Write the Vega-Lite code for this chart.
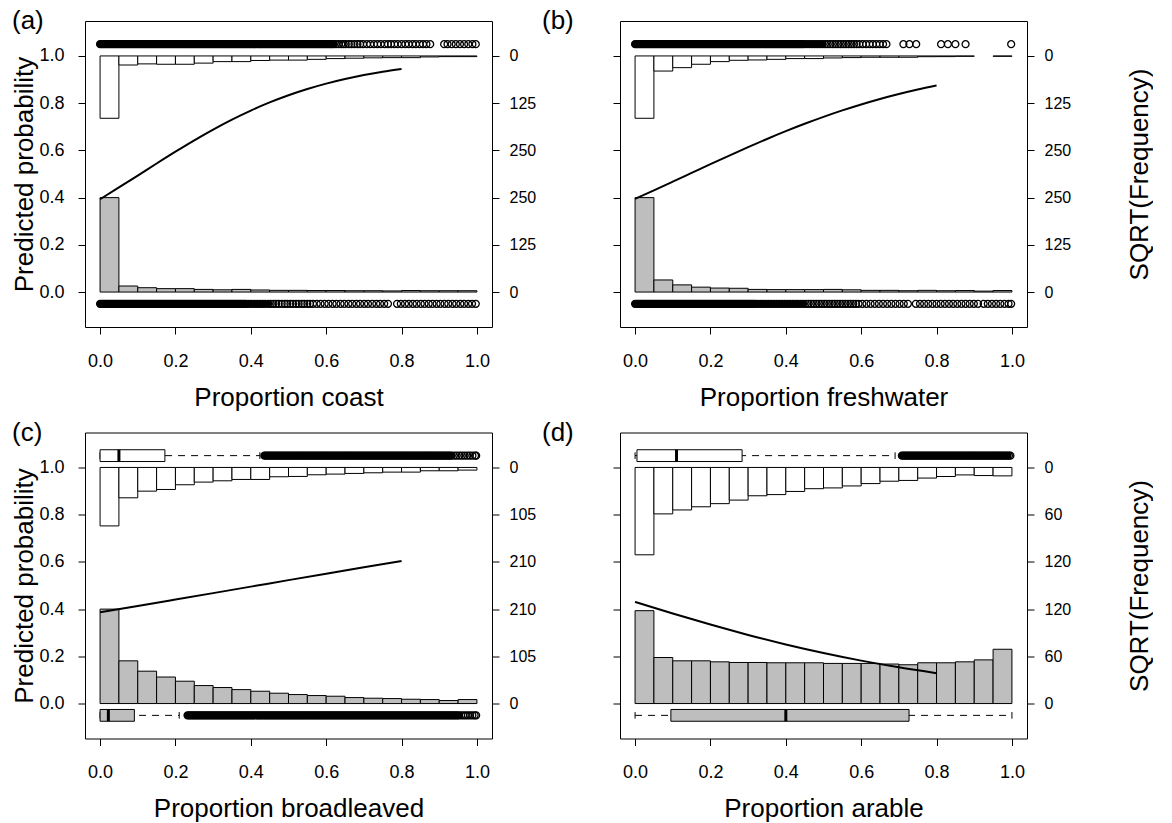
{
"$schema": "https://vega.github.io/schema/vega-lite/v6.json",
"padding": {"left": 10, "top": 7, "right": 0, "bottom": 0},
"background": "white",
"config": {
  "font": "Liberation Sans",
  "view": {"stroke": "black", "strokeWidth": 1},
  "axis": {"grid": false, "domain": false, "tickColor": "black", "tickSize": 7, "tickWidth": 1, "labelColor": "black", "labelFontSize": 18, "titleColor": "black", "titleFontSize": 26, "titleFontWeight": "normal", "labelFont": "Liberation Sans", "titleFont": "Liberation Sans", "labelOverlap": false, "labelBound": false, "labelFlush": false}
},
"columns": 2,
"spacing": {"row": 105.5, "column": 128},
"bounds": "flush",
"concat": [
{
  "width": 407, "height": 306,
  "title": {"text": "(a)", "anchor": "start", "frame": "group", "dx": -73, "dy": 34, "offset": 0, "baseline": "alphabetic", "fontSize": 26, "fontWeight": "normal", "font": "Liberation Sans", "color": "black"},
  "resolve": {"scale": {"y": "independent"}},
  "data": {"values": [
    {"b0":0,"b1":0.05,"pres":250,"abs":165},{"b0":0.05,"b1":0.1,"pres":16,"abs":24},{"b0":0.1,"b1":0.15,"pres":11.5,"abs":21},{"b0":0.15,"b1":0.2,"pres":9,"abs":22},{"b0":0.2,"b1":0.25,"pres":9,"abs":22},{"b0":0.25,"b1":0.3,"pres":7,"abs":19},{"b0":0.3,"b1":0.35,"pres":6,"abs":15},{"b0":0.35,"b1":0.4,"pres":7,"abs":15},{"b0":0.4,"b1":0.45,"pres":5.5,"abs":12},{"b0":0.45,"b1":0.5,"pres":4.5,"abs":11},{"b0":0.5,"b1":0.55,"pres":4.5,"abs":11},{"b0":0.55,"b1":0.6,"pres":4,"abs":9},{"b0":0.6,"b1":0.65,"pres":4,"abs":7},{"b0":0.65,"b1":0.7,"pres":3.5,"abs":6},{"b0":0.7,"b1":0.75,"pres":3.5,"abs":5},{"b0":0.75,"b1":0.8,"pres":3,"abs":4.5},{"b0":0.8,"b1":0.85,"pres":4,"abs":4.5},{"b0":0.85,"b1":0.9,"pres":3.5,"abs":2.6},{"b0":0.9,"b1":0.95,"pres":3.5,"abs":1.8},{"b0":0.95,"b1":1,"pres":3.5,"abs":1.8}
  ]},
  "layer": [
    {"mark": {"type": "bar", "fill": "white", "stroke": "black", "strokeWidth": 1},
     "encoding": {
       "x": {"field": "b0", "type": "quantitative", "scale": {"domain": [-0.04, 1.04], "nice": false, "zero": false}, "axis": {"title": "Proportion coast", "values": [0, 0.2, 0.4, 0.6, 0.8, 1], "format": ".1f", "labelPadding": 18, "titleY": 78, "titleBaseline": "alphabetic"}},
       "x2": {"field": "b1"},
       "y": {"field": "abs", "type": "quantitative", "scale": {"domain": [-92.5, 717.5], "reverse": true, "nice": false, "zero": false}, "axis": null},
       "y2": {"datum": 0}}},
    {"mark": {"type": "bar", "fill": "#bebebe", "stroke": "black", "strokeWidth": 1},
     "encoding": {
       "x": {"field": "b0", "type": "quantitative", "scale": {"domain": [-0.04, 1.04], "nice": false, "zero": false}, "axis": {"title": "Proportion coast", "values": [0, 0.2, 0.4, 0.6, 0.8, 1], "format": ".1f", "labelPadding": 18, "titleY": 78, "titleBaseline": "alphabetic"}},
       "x2": {"field": "b1"},
       "y": {"field": "pres", "type": "quantitative", "scale": {"domain": [-92.5, 717.5], "nice": false, "zero": false}, "axis": null},
       "y2": {"datum": 0}}},
    {"data": {"values": [0,0.004,0.008,0.012,0.016,0.02,0.024,0.028,0.032,0.036,0.04,0.044,0.048,0.052,0.056,0.06,0.064,0.068,0.072,0.076,0.08,0.084,0.088,0.092,0.096,0.1,0.104,0.108,0.112,0.116,0.12,0.124,0.128,0.132,0.136,0.14,0.144,0.148,0.152,0.156,0.16,0.164,0.168,0.172,0.176,0.18,0.184,0.188,0.192,0.196,0.2,0.204,0.208,0.212,0.216,0.22,0.224,0.228,0.232,0.236,0.24,0.244,0.248,0.252,0.256,0.26,0.264,0.268,0.272,0.276,0.28,0.284,0.288,0.292,0.296,0.3,0.304,0.308,0.312,0.316,0.32,0.324,0.328,0.332,0.336,0.34,0.344,0.348,0.352,0.356,0.36,0.364,0.368,0.372,0.376,0.38,0.384,0.388,0.392,0.396,0.4,0.404,0.408,0.412,0.416,0.42,0.424,0.428,0.432,0.436,0.44,0.444,0.448,0.452,0.456,0.46,0.464,0.468,0.472,0.476,0.48,0.484,0.488,0.492,0.496,0.5,0.504,0.508,0.512,0.516,0.52,0.524,0.528,0.532,0.536,0.54,0.544,0.548,0.552,0.556,0.56,0.564,0.568,0.572,0.576,0.58,0.584,0.588,0.592,0.596,0.6,0.604,0.608,0.612,0.616,0.62,0.626,0.633,0.64,0.646,0.652,0.66,0.667,0.675,0.683,0.69,0.698,0.708,0.717,0.727,0.736,0.745,0.755,0.764,0.772,0.781,0.79,0.8,0.81,0.819,0.829,0.838,0.848,0.857,0.866,0.876,0.913,0.922,0.933,0.944,0.955,0.966,0.977,0.988,0.997]},
     "mark": {"type": "point", "shape": "circle", "filled": true, "stroke": "black", "strokeWidth": 1.3, "size": 48, "opacity": 1},
     "encoding": {
       "x": {"field": "data", "type": "quantitative", "scale": {"domain": [-0.04, 1.04], "nice": false, "zero": false}, "axis": {"title": "Proportion coast", "values": [0, 0.2, 0.4, 0.6, 0.8, 1], "format": ".1f", "labelPadding": 18, "titleY": 78, "titleBaseline": "alphabetic"}},
       "y": {"datum": 1.05, "type": "quantitative", "scale": {"domain": [-0.148, 1.148], "nice": false, "zero": false}, "axis": {"orient": "right", "title": null, "values": [0, 0.2, 0.4, 0.6, 0.8, 1], "labelExpr": "datum.value >= 0.5 ? '' + round((1 - datum.value) * 625) : '' + round(datum.value * 625)", "labelAlign": "left", "labelFontSize": 16, "labelPadding": 10}},
       "fill": {"condition": {"test": "datum.data <= 0.62", "value": "black"}, "value": "transparent"}}},
    {"data": {"values": [0,0.004,0.008,0.012,0.016,0.02,0.024,0.028,0.032,0.036,0.04,0.044,0.048,0.052,0.056,0.06,0.064,0.068,0.072,0.076,0.08,0.084,0.088,0.092,0.096,0.1,0.104,0.108,0.112,0.116,0.12,0.124,0.128,0.132,0.136,0.14,0.144,0.148,0.152,0.156,0.16,0.164,0.168,0.172,0.176,0.18,0.184,0.188,0.192,0.196,0.2,0.204,0.208,0.212,0.216,0.22,0.224,0.228,0.232,0.236,0.24,0.244,0.248,0.252,0.256,0.26,0.264,0.268,0.272,0.276,0.28,0.284,0.288,0.292,0.296,0.3,0.304,0.308,0.312,0.316,0.32,0.324,0.328,0.332,0.336,0.34,0.344,0.348,0.352,0.356,0.36,0.364,0.368,0.372,0.376,0.38,0.384,0.388,0.395,0.402,0.41,0.417,0.424,0.431,0.438,0.446,0.453,0.46,0.467,0.474,0.482,0.49,0.497,0.505,0.512,0.52,0.527,0.535,0.542,0.55,0.557,0.565,0.575,0.585,0.596,0.606,0.617,0.627,0.638,0.648,0.659,0.669,0.68,0.69,0.701,0.711,0.722,0.733,0.743,0.754,0.764,0.788,0.798,0.809,0.819,0.83,0.84,0.851,0.861,0.872,0.882,0.893,0.903,0.914,0.924,0.935,0.945,0.956,0.966,0.977,0.987,0.997]},
     "mark": {"type": "point", "shape": "circle", "filled": true, "stroke": "black", "strokeWidth": 1.3, "size": 48, "opacity": 1},
     "encoding": {
       "x": {"field": "data", "type": "quantitative", "scale": {"domain": [-0.04, 1.04], "nice": false, "zero": false}, "axis": {"title": "Proportion coast", "values": [0, 0.2, 0.4, 0.6, 0.8, 1], "format": ".1f", "labelPadding": 18, "titleY": 78, "titleBaseline": "alphabetic"}},
       "y": {"datum": -0.05, "type": "quantitative", "scale": {"domain": [-0.148, 1.148], "nice": false, "zero": false}, "axis": null},
       "fill": {"condition": {"test": "datum.data <= 0.45", "value": "black"}, "value": "transparent"}}},
    {"data": {"values": [{"x":0,"p":0.393},{"x":0.05,"p":0.443},{"x":0.1,"p":0.4935},{"x":0.15,"p":0.5445},{"x":0.2,"p":0.5946},{"x":0.25,"p":0.6428},{"x":0.3,"p":0.6883},{"x":0.35,"p":0.7304},{"x":0.4,"p":0.7687},{"x":0.45,"p":0.8031},{"x":0.5,"p":0.8334},{"x":0.55,"p":0.8599},{"x":0.6,"p":0.8828},{"x":0.65,"p":0.9023},{"x":0.7,"p":0.919},{"x":0.75,"p":0.9329},{"x":0.8,"p":0.9446}]},
     "mark": {"type": "line", "color": "black", "strokeWidth": 2, "interpolate": "monotone"},
     "encoding": {
       "x": {"field": "x", "type": "quantitative", "scale": {"domain": [-0.04, 1.04], "nice": false, "zero": false}, "axis": {"title": "Proportion coast", "values": [0, 0.2, 0.4, 0.6, 0.8, 1], "format": ".1f", "labelPadding": 18, "titleY": 78, "titleBaseline": "alphabetic"}},
       "y": {"field": "p", "type": "quantitative", "scale": {"domain": [-0.148, 1.148], "nice": false, "zero": false}, "axis": {"orient": "left", "title": "Predicted probability", "values": [0, 0.2, 0.4, 0.6, 0.8, 1], "format": ".1f", "labelPadding": 14, "titleX": -53, "titleY": 153, "titleAngle": 270, "titleBaseline": "alphabetic", "titleAlign": "center"}}}}
  ]
},
{
  "width": 407, "height": 306,
  "title": {"text": "(b)", "anchor": "start", "frame": "group", "dx": -78, "dy": 34, "offset": 0, "baseline": "alphabetic", "fontSize": 26, "fontWeight": "normal", "font": "Liberation Sans", "color": "black"},
  "resolve": {"scale": {"y": "independent"}},
  "data": {"values": [
    {"b0":0,"b1":0.05,"pres":250,"abs":165},{"b0":0.05,"b1":0.1,"pres":32,"abs":40},{"b0":0.1,"b1":0.15,"pres":19,"abs":31},{"b0":0.15,"b1":0.2,"pres":13,"abs":22},{"b0":0.2,"b1":0.25,"pres":10.6,"abs":15},{"b0":0.25,"b1":0.3,"pres":10,"abs":11.5},{"b0":0.3,"b1":0.35,"pres":7,"abs":10.6},{"b0":0.35,"b1":0.4,"pres":6.5,"abs":9},{"b0":0.4,"b1":0.45,"pres":6.5,"abs":7},{"b0":0.45,"b1":0.5,"pres":6.5,"abs":7},{"b0":0.5,"b1":0.55,"pres":7,"abs":5.3},{"b0":0.55,"b1":0.6,"pres":6,"abs":4.4},{"b0":0.6,"b1":0.65,"pres":4.5,"abs":3.5},{"b0":0.65,"b1":0.7,"pres":4.5,"abs":3.5},{"b0":0.7,"b1":0.75,"pres":3.5,"abs":3.5},{"b0":0.75,"b1":0.8,"pres":4.5,"abs":2},{"b0":0.8,"b1":0.85,"pres":3.5,"abs":1.8},{"b0":0.85,"b1":0.9,"pres":4,"abs":1},{"b0":0.9,"b1":0.95,"pres":2.5,"abs":null},{"b0":0.95,"b1":1,"pres":4,"abs":1}
  ]},
  "layer": [
    {"mark": {"type": "bar", "fill": "white", "stroke": "black", "strokeWidth": 1},
     "encoding": {
       "x": {"field": "b0", "type": "quantitative", "scale": {"domain": [-0.04, 1.04], "nice": false, "zero": false}, "axis": {"title": "Proportion freshwater", "values": [0, 0.2, 0.4, 0.6, 0.8, 1], "format": ".1f", "labelPadding": 18, "titleY": 78, "titleBaseline": "alphabetic"}},
       "x2": {"field": "b1"},
       "y": {"field": "abs", "type": "quantitative", "scale": {"domain": [-92.5, 717.5], "reverse": true, "nice": false, "zero": false}, "axis": null},
       "y2": {"datum": 0}}},
    {"mark": {"type": "bar", "fill": "#bebebe", "stroke": "black", "strokeWidth": 1},
     "encoding": {
       "x": {"field": "b0", "type": "quantitative", "scale": {"domain": [-0.04, 1.04], "nice": false, "zero": false}, "axis": {"title": "Proportion freshwater", "values": [0, 0.2, 0.4, 0.6, 0.8, 1], "format": ".1f", "labelPadding": 18, "titleY": 78, "titleBaseline": "alphabetic"}},
       "x2": {"field": "b1"},
       "y": {"field": "pres", "type": "quantitative", "scale": {"domain": [-92.5, 717.5], "nice": false, "zero": false}, "axis": null},
       "y2": {"datum": 0}}},
    {"data": {"values": [0,0.004,0.008,0.012,0.016,0.02,0.024,0.028,0.032,0.036,0.04,0.044,0.048,0.052,0.056,0.06,0.064,0.068,0.072,0.076,0.08,0.084,0.088,0.092,0.096,0.1,0.104,0.108,0.112,0.116,0.12,0.124,0.128,0.132,0.136,0.14,0.144,0.148,0.152,0.156,0.16,0.164,0.168,0.172,0.176,0.18,0.184,0.188,0.192,0.196,0.2,0.204,0.208,0.212,0.216,0.22,0.224,0.228,0.232,0.236,0.24,0.244,0.248,0.252,0.256,0.26,0.264,0.268,0.272,0.276,0.28,0.284,0.288,0.292,0.296,0.3,0.304,0.308,0.312,0.316,0.32,0.324,0.328,0.332,0.336,0.34,0.344,0.348,0.352,0.356,0.36,0.364,0.368,0.372,0.376,0.38,0.384,0.388,0.392,0.396,0.4,0.404,0.408,0.412,0.416,0.42,0.424,0.428,0.432,0.436,0.44,0.444,0.448,0.455,0.462,0.469,0.476,0.483,0.49,0.497,0.504,0.511,0.518,0.525,0.532,0.539,0.546,0.553,0.56,0.567,0.574,0.581,0.588,0.595,0.604,0.613,0.622,0.631,0.64,0.649,0.658,0.667,0.712,0.728,0.746,0.812,0.83,0.85,0.877,0.998]},
     "mark": {"type": "point", "shape": "circle", "filled": true, "stroke": "black", "strokeWidth": 1.3, "size": 48, "opacity": 1},
     "encoding": {
       "x": {"field": "data", "type": "quantitative", "scale": {"domain": [-0.04, 1.04], "nice": false, "zero": false}, "axis": {"title": "Proportion freshwater", "values": [0, 0.2, 0.4, 0.6, 0.8, 1], "format": ".1f", "labelPadding": 18, "titleY": 78, "titleBaseline": "alphabetic"}},
       "y": {"datum": 1.05, "type": "quantitative", "scale": {"domain": [-0.148, 1.148], "nice": false, "zero": false}, "axis": {"orient": "right", "title": "SQRT(Frequency)", "values": [0, 0.2, 0.4, 0.6, 0.8, 1], "labelExpr": "datum.value >= 0.5 ? '' + round((1 - datum.value) * 625) : '' + round(datum.value * 625)", "labelAlign": "left", "labelFontSize": 16, "labelPadding": 10, "titleX": 120, "titleY": 153, "titleAngle": 270, "titleBaseline": "alphabetic", "titleAlign": "center"}},
       "fill": {"condition": {"test": "datum.data <= 0.5", "value": "black"}, "value": "transparent"}}},
    {"data": {"values": [0,0.004,0.008,0.012,0.016,0.02,0.024,0.028,0.032,0.036,0.04,0.044,0.048,0.052,0.056,0.06,0.064,0.068,0.072,0.076,0.08,0.084,0.088,0.092,0.096,0.1,0.104,0.108,0.112,0.116,0.12,0.124,0.128,0.132,0.136,0.14,0.144,0.148,0.152,0.156,0.16,0.164,0.168,0.172,0.176,0.18,0.184,0.188,0.192,0.196,0.2,0.204,0.208,0.212,0.216,0.22,0.224,0.228,0.232,0.236,0.24,0.244,0.248,0.252,0.256,0.26,0.264,0.268,0.272,0.276,0.28,0.284,0.288,0.292,0.296,0.3,0.304,0.308,0.312,0.316,0.32,0.327,0.334,0.341,0.348,0.355,0.362,0.369,0.376,0.383,0.39,0.397,0.404,0.411,0.418,0.425,0.432,0.439,0.446,0.453,0.46,0.467,0.474,0.481,0.488,0.495,0.502,0.509,0.516,0.523,0.53,0.537,0.544,0.551,0.558,0.565,0.572,0.579,0.586,0.593,0.603,0.614,0.625,0.636,0.647,0.658,0.669,0.68,0.691,0.702,0.713,0.724,0.745,0.756,0.767,0.778,0.789,0.8,0.811,0.822,0.833,0.844,0.855,0.866,0.877,0.888,0.899,0.91,0.925,0.936,0.947,0.958,0.969,0.98,0.991,0.998]},
     "mark": {"type": "point", "shape": "circle", "filled": true, "stroke": "black", "strokeWidth": 1.3, "size": 48, "opacity": 1},
     "encoding": {
       "x": {"field": "data", "type": "quantitative", "scale": {"domain": [-0.04, 1.04], "nice": false, "zero": false}, "axis": {"title": "Proportion freshwater", "values": [0, 0.2, 0.4, 0.6, 0.8, 1], "format": ".1f", "labelPadding": 18, "titleY": 78, "titleBaseline": "alphabetic"}},
       "y": {"datum": -0.05, "type": "quantitative", "scale": {"domain": [-0.148, 1.148], "nice": false, "zero": false}, "axis": null},
       "fill": {"condition": {"test": "datum.data <= 0.45", "value": "black"}, "value": "transparent"}}},
    {"data": {"values": [{"x":0,"p":0.395},{"x":0.05,"p":0.431},{"x":0.1,"p":0.4677},{"x":0.15,"p":0.5047},{"x":0.2,"p":0.5417},{"x":0.25,"p":0.5782},{"x":0.3,"p":0.6138},{"x":0.35,"p":0.6483},{"x":0.4,"p":0.6814},{"x":0.45,"p":0.7126},{"x":0.5,"p":0.742},{"x":0.55,"p":0.7694},{"x":0.6,"p":0.7946},{"x":0.65,"p":0.8178},{"x":0.7,"p":0.8388},{"x":0.75,"p":0.8579},{"x":0.8,"p":0.875}]},
     "mark": {"type": "line", "color": "black", "strokeWidth": 2, "interpolate": "monotone"},
     "encoding": {
       "x": {"field": "x", "type": "quantitative", "scale": {"domain": [-0.04, 1.04], "nice": false, "zero": false}, "axis": {"title": "Proportion freshwater", "values": [0, 0.2, 0.4, 0.6, 0.8, 1], "format": ".1f", "labelPadding": 18, "titleY": 78, "titleBaseline": "alphabetic"}},
       "y": {"field": "p", "type": "quantitative", "scale": {"domain": [-0.148, 1.148], "nice": false, "zero": false}, "axis": {"orient": "left", "title": null, "values": [0, 0.2, 0.4, 0.6, 0.8, 1], "labels": false}}}}
  ]
},
{
  "width": 407, "height": 306,
  "title": {"text": "(c)", "anchor": "start", "frame": "group", "dx": -73, "dy": 34, "offset": 0, "baseline": "alphabetic", "fontSize": 26, "fontWeight": "normal", "font": "Liberation Sans", "color": "black"},
  "resolve": {"scale": {"y": "independent"}},
  "data": {"values": [
    {"b0":0,"b1":0.05,"pres":210,"abs":130},{"b0":0.05,"b1":0.1,"pres":95,"abs":67.5},{"b0":0.1,"b1":0.15,"pres":72,"abs":52.7},{"b0":0.15,"b1":0.2,"pres":59,"abs":49},{"b0":0.2,"b1":0.25,"pres":49.7,"abs":38.5},{"b0":0.25,"b1":0.3,"pres":40,"abs":32.6},{"b0":0.3,"b1":0.35,"pres":35.6,"abs":29.7},{"b0":0.35,"b1":0.4,"pres":31,"abs":26.7},{"b0":0.4,"b1":0.45,"pres":27.4,"abs":26.7},{"b0":0.45,"b1":0.5,"pres":23,"abs":20.7},{"b0":0.5,"b1":0.55,"pres":20,"abs":20},{"b0":0.55,"b1":0.6,"pres":17.8,"abs":16.3},{"b0":0.6,"b1":0.65,"pres":16.3,"abs":14.8},{"b0":0.65,"b1":0.7,"pres":13.3,"abs":13.3},{"b0":0.7,"b1":0.75,"pres":11.9,"abs":11.9},{"b0":0.75,"b1":0.8,"pres":11.1,"abs":10.4},{"b0":0.8,"b1":0.85,"pres":9.6,"abs":10.4},{"b0":0.85,"b1":0.9,"pres":8.9,"abs":7.4},{"b0":0.9,"b1":0.95,"pres":6.7,"abs":7.4},{"b0":0.95,"b1":1,"pres":8.9,"abs":5.9}
  ]},
  "layer": [
    {"mark": {"type": "bar", "fill": "white", "stroke": "black", "strokeWidth": 1},
     "encoding": {
       "x": {"field": "b0", "type": "quantitative", "scale": {"domain": [-0.04, 1.04], "nice": false, "zero": false}, "axis": {"title": "Proportion broadleaved", "values": [0, 0.2, 0.4, 0.6, 0.8, 1], "format": ".1f", "labelPadding": 18, "titleY": 78, "titleBaseline": "alphabetic"}},
       "x2": {"field": "b1"},
       "y": {"field": "abs", "type": "quantitative", "scale": {"domain": [-77.7, 602.7], "reverse": true, "nice": false, "zero": false}, "axis": null},
       "y2": {"datum": 0}}},
    {"mark": {"type": "bar", "fill": "#bebebe", "stroke": "black", "strokeWidth": 1},
     "encoding": {
       "x": {"field": "b0", "type": "quantitative", "scale": {"domain": [-0.04, 1.04], "nice": false, "zero": false}, "axis": {"title": "Proportion broadleaved", "values": [0, 0.2, 0.4, 0.6, 0.8, 1], "format": ".1f", "labelPadding": 18, "titleY": 78, "titleBaseline": "alphabetic"}},
       "x2": {"field": "b1"},
       "y": {"field": "pres", "type": "quantitative", "scale": {"domain": [-77.7, 602.7], "nice": false, "zero": false}, "axis": null},
       "y2": {"datum": 0}}},
    {"data": {"values": [{"lo":0,"q1":0,"med":0.05,"q3":0.172,"hi":0.424}]},
     "mark": {"type": "rule", "color": "black", "strokeWidth": 1, "strokeDash": [7, 6]},
     "encoding": {"x": {"field": "lo", "type": "quantitative", "scale": {"domain": [-0.04, 1.04], "nice": false, "zero": false}, "axis": {"title": "Proportion broadleaved", "values": [0, 0.2, 0.4, 0.6, 0.8, 1], "format": ".1f", "labelPadding": 18, "titleY": 78, "titleBaseline": "alphabetic"}}, "x2": {"field": "hi"},
       "y": {"datum": 1.05, "type": "quantitative", "scale": {"domain": [-0.148, 1.148], "nice": false, "zero": false}, "axis": null}}},
    {"data": {"values": [{"lo":0,"q1":0,"med":0.05,"q3":0.172,"hi":0.424}]},
     "transform": [{"fold": ["lo", "hi"], "as": ["k", "v"]}],
     "mark": {"type": "rule", "color": "black", "strokeWidth": 1},
     "encoding": {"x": {"field": "v", "type": "quantitative", "scale": {"domain": [-0.04, 1.04], "nice": false, "zero": false}, "axis": {"title": "Proportion broadleaved", "values": [0, 0.2, 0.4, 0.6, 0.8, 1], "format": ".1f", "labelPadding": 18, "titleY": 78, "titleBaseline": "alphabetic"}},
       "y": {"datum": 1.036, "type": "quantitative", "scale": {"domain": [-0.148, 1.148], "nice": false, "zero": false}, "axis": null}, "y2": {"datum": 1.064}}},
    {"data": {"values": [{"lo":0,"q1":0,"med":0.05,"q3":0.172,"hi":0.424}]},
     "mark": {"type": "bar", "fill": "white", "stroke": "black", "strokeWidth": 1},
     "encoding": {"x": {"field": "q1", "type": "quantitative", "scale": {"domain": [-0.04, 1.04], "nice": false, "zero": false}, "axis": {"title": "Proportion broadleaved", "values": [0, 0.2, 0.4, 0.6, 0.8, 1], "format": ".1f", "labelPadding": 18, "titleY": 78, "titleBaseline": "alphabetic"}}, "x2": {"field": "q3"},
       "y": {"datum": 1.025, "type": "quantitative", "scale": {"domain": [-0.148, 1.148], "nice": false, "zero": false}, "axis": null}, "y2": {"datum": 1.075}}},
    {"data": {"values": [{"lo":0,"q1":0,"med":0.05,"q3":0.172,"hi":0.424}]},
     "mark": {"type": "rule", "color": "black", "strokeWidth": 3},
     "encoding": {"x": {"field": "med", "type": "quantitative", "scale": {"domain": [-0.04, 1.04], "nice": false, "zero": false}, "axis": {"title": "Proportion broadleaved", "values": [0, 0.2, 0.4, 0.6, 0.8, 1], "format": ".1f", "labelPadding": 18, "titleY": 78, "titleBaseline": "alphabetic"}},
       "y": {"datum": 1.025, "type": "quantitative", "scale": {"domain": [-0.148, 1.148], "nice": false, "zero": false}, "axis": null}, "y2": {"datum": 1.075}}},
    {"data": {"values": [{"lo":0,"q1":0,"med":0.022,"q3":0.091,"hi":0.21}]},
     "mark": {"type": "rule", "color": "black", "strokeWidth": 1, "strokeDash": [7, 6]},
     "encoding": {"x": {"field": "lo", "type": "quantitative", "scale": {"domain": [-0.04, 1.04], "nice": false, "zero": false}, "axis": {"title": "Proportion broadleaved", "values": [0, 0.2, 0.4, 0.6, 0.8, 1], "format": ".1f", "labelPadding": 18, "titleY": 78, "titleBaseline": "alphabetic"}}, "x2": {"field": "hi"},
       "y": {"datum": -0.05, "type": "quantitative", "scale": {"domain": [-0.148, 1.148], "nice": false, "zero": false}, "axis": null}}},
    {"data": {"values": [{"lo":0,"q1":0,"med":0.022,"q3":0.091,"hi":0.21}]},
     "transform": [{"fold": ["lo", "hi"], "as": ["k", "v"]}],
     "mark": {"type": "rule", "color": "black", "strokeWidth": 1},
     "encoding": {"x": {"field": "v", "type": "quantitative", "scale": {"domain": [-0.04, 1.04], "nice": false, "zero": false}, "axis": {"title": "Proportion broadleaved", "values": [0, 0.2, 0.4, 0.6, 0.8, 1], "format": ".1f", "labelPadding": 18, "titleY": 78, "titleBaseline": "alphabetic"}},
       "y": {"datum": -0.064, "type": "quantitative", "scale": {"domain": [-0.148, 1.148], "nice": false, "zero": false}, "axis": null}, "y2": {"datum": -0.036}}},
    {"data": {"values": [{"lo":0,"q1":0,"med":0.022,"q3":0.091,"hi":0.21}]},
     "mark": {"type": "bar", "fill": "#bebebe", "stroke": "black", "strokeWidth": 1},
     "encoding": {"x": {"field": "q1", "type": "quantitative", "scale": {"domain": [-0.04, 1.04], "nice": false, "zero": false}, "axis": {"title": "Proportion broadleaved", "values": [0, 0.2, 0.4, 0.6, 0.8, 1], "format": ".1f", "labelPadding": 18, "titleY": 78, "titleBaseline": "alphabetic"}}, "x2": {"field": "q3"},
       "y": {"datum": -0.075, "type": "quantitative", "scale": {"domain": [-0.148, 1.148], "nice": false, "zero": false}, "axis": null}, "y2": {"datum": -0.025}}},
    {"data": {"values": [{"lo":0,"q1":0,"med":0.022,"q3":0.091,"hi":0.21}]},
     "mark": {"type": "rule", "color": "black", "strokeWidth": 3},
     "encoding": {"x": {"field": "med", "type": "quantitative", "scale": {"domain": [-0.04, 1.04], "nice": false, "zero": false}, "axis": {"title": "Proportion broadleaved", "values": [0, 0.2, 0.4, 0.6, 0.8, 1], "format": ".1f", "labelPadding": 18, "titleY": 78, "titleBaseline": "alphabetic"}},
       "y": {"datum": -0.075, "type": "quantitative", "scale": {"domain": [-0.148, 1.148], "nice": false, "zero": false}, "axis": null}, "y2": {"datum": -0.025}}},
    {"data": {"values": [0.436,0.44,0.444,0.448,0.452,0.456,0.46,0.464,0.468,0.472,0.476,0.48,0.484,0.488,0.492,0.496,0.5,0.504,0.508,0.512,0.516,0.52,0.524,0.528,0.532,0.536,0.54,0.544,0.548,0.552,0.556,0.56,0.564,0.568,0.572,0.576,0.58,0.584,0.588,0.592,0.596,0.6,0.604,0.608,0.612,0.616,0.62,0.624,0.628,0.632,0.636,0.64,0.644,0.648,0.652,0.656,0.66,0.664,0.668,0.672,0.676,0.68,0.684,0.688,0.692,0.696,0.7,0.704,0.708,0.712,0.716,0.72,0.724,0.728,0.732,0.736,0.74,0.744,0.748,0.752,0.756,0.76,0.764,0.768,0.772,0.776,0.78,0.784,0.788,0.792,0.796,0.8,0.804,0.808,0.812,0.816,0.82,0.824,0.828,0.832,0.836,0.84,0.844,0.848,0.852,0.856,0.86,0.864,0.868,0.872,0.876,0.88,0.884,0.888,0.892,0.896,0.9,0.904,0.908,0.912,0.916,0.92,0.924,0.928,0.932,0.939,0.946,0.953,0.96,0.967,0.974,0.981,0.988,0.995,0.998]},
     "mark": {"type": "point", "shape": "circle", "filled": true, "stroke": "black", "strokeWidth": 1.3, "size": 48, "opacity": 1},
     "encoding": {
       "x": {"field": "data", "type": "quantitative", "scale": {"domain": [-0.04, 1.04], "nice": false, "zero": false}, "axis": {"title": "Proportion broadleaved", "values": [0, 0.2, 0.4, 0.6, 0.8, 1], "format": ".1f", "labelPadding": 18, "titleY": 78, "titleBaseline": "alphabetic"}},
       "y": {"datum": 1.05, "type": "quantitative", "scale": {"domain": [-0.148, 1.148], "nice": false, "zero": false}, "axis": {"orient": "right", "title": null, "values": [0, 0.2, 0.4, 0.6, 0.8, 1], "labelExpr": "datum.value >= 0.5 ? '' + round((1 - datum.value) * 525) : '' + round(datum.value * 525)", "labelAlign": "left", "labelFontSize": 16, "labelPadding": 10}},
       "fill": {"condition": {"test": "datum.data <= 0.932", "value": "black"}, "value": "transparent"}}},
    {"data": {"values": [0.232,0.236,0.24,0.244,0.248,0.252,0.256,0.26,0.264,0.268,0.272,0.276,0.28,0.284,0.288,0.292,0.296,0.3,0.304,0.308,0.312,0.316,0.32,0.324,0.328,0.332,0.336,0.34,0.344,0.348,0.352,0.356,0.36,0.364,0.368,0.372,0.376,0.38,0.384,0.388,0.392,0.396,0.4,0.404,0.408,0.412,0.416,0.42,0.424,0.428,0.432,0.436,0.44,0.444,0.448,0.452,0.456,0.46,0.464,0.468,0.472,0.476,0.48,0.484,0.488,0.492,0.496,0.5,0.504,0.508,0.512,0.516,0.52,0.524,0.528,0.532,0.536,0.54,0.544,0.548,0.552,0.556,0.56,0.564,0.568,0.572,0.576,0.58,0.584,0.588,0.592,0.596,0.6,0.604,0.608,0.612,0.616,0.62,0.624,0.628,0.632,0.636,0.64,0.644,0.648,0.652,0.656,0.66,0.664,0.668,0.672,0.676,0.68,0.684,0.688,0.692,0.696,0.7,0.704,0.708,0.712,0.716,0.72,0.724,0.728,0.732,0.736,0.74,0.744,0.748,0.752,0.756,0.76,0.764,0.768,0.772,0.776,0.78,0.784,0.788,0.792,0.796,0.8,0.804,0.808,0.812,0.816,0.82,0.824,0.828,0.832,0.836,0.84,0.844,0.848,0.852,0.856,0.86,0.864,0.868,0.872,0.876,0.88,0.884,0.888,0.892,0.896,0.9,0.904,0.908,0.912,0.916,0.92,0.924,0.928,0.932,0.936,0.94,0.944,0.948,0.952,0.958,0.964,0.97,0.976,0.982,0.988,0.994,0.998]},
     "mark": {"type": "point", "shape": "circle", "filled": true, "stroke": "black", "strokeWidth": 1.3, "size": 48, "opacity": 1},
     "encoding": {
       "x": {"field": "data", "type": "quantitative", "scale": {"domain": [-0.04, 1.04], "nice": false, "zero": false}, "axis": {"title": "Proportion broadleaved", "values": [0, 0.2, 0.4, 0.6, 0.8, 1], "format": ".1f", "labelPadding": 18, "titleY": 78, "titleBaseline": "alphabetic"}},
       "y": {"datum": -0.05, "type": "quantitative", "scale": {"domain": [-0.148, 1.148], "nice": false, "zero": false}, "axis": null},
       "fill": {"condition": {"test": "datum.data <= 0.952", "value": "black"}, "value": "transparent"}}},
    {"data": {"values": [{"x":0,"p":0.387},{"x":0.1,"p":0.4134},{"x":0.2,"p":0.4404},{"x":0.3,"p":0.4677},{"x":0.4,"p":0.4952},{"x":0.5,"p":0.5228},{"x":0.6,"p":0.5502},{"x":0.7,"p":0.5773},{"x":0.8,"p":0.6039}]},
     "mark": {"type": "line", "color": "black", "strokeWidth": 2, "interpolate": "monotone"},
     "encoding": {
       "x": {"field": "x", "type": "quantitative", "scale": {"domain": [-0.04, 1.04], "nice": false, "zero": false}, "axis": {"title": "Proportion broadleaved", "values": [0, 0.2, 0.4, 0.6, 0.8, 1], "format": ".1f", "labelPadding": 18, "titleY": 78, "titleBaseline": "alphabetic"}},
       "y": {"field": "p", "type": "quantitative", "scale": {"domain": [-0.148, 1.148], "nice": false, "zero": false}, "axis": {"orient": "left", "title": "Predicted probability", "values": [0, 0.2, 0.4, 0.6, 0.8, 1], "format": ".1f", "labelPadding": 14, "titleX": -53, "titleY": 153, "titleAngle": 270, "titleBaseline": "alphabetic", "titleAlign": "center"}}}}
  ]
},
{
  "width": 407, "height": 306,
  "title": {"text": "(d)", "anchor": "start", "frame": "group", "dx": -78, "dy": 34, "offset": 0, "baseline": "alphabetic", "fontSize": 26, "fontWeight": "normal", "font": "Liberation Sans", "color": "black"},
  "resolve": {"scale": {"y": "independent"}},
  "data": {"values": [
    {"b0":0,"b1":0.05,"pres":118,"abs":111},{"b0":0.05,"b1":0.1,"pres":58.5,"abs":59},{"b0":0.1,"b1":0.15,"pres":54.3,"abs":54},{"b0":0.15,"b1":0.2,"pres":54.3,"abs":50},{"b0":0.2,"b1":0.25,"pres":53,"abs":46},{"b0":0.25,"b1":0.3,"pres":52.2,"abs":41.5},{"b0":0.3,"b1":0.35,"pres":52.2,"abs":36},{"b0":0.35,"b1":0.4,"pres":51.8,"abs":34.5},{"b0":0.4,"b1":0.45,"pres":51.8,"abs":30.5},{"b0":0.45,"b1":0.5,"pres":51.8,"abs":27},{"b0":0.5,"b1":0.55,"pres":51,"abs":26},{"b0":0.55,"b1":0.6,"pres":51,"abs":23.5},{"b0":0.6,"b1":0.65,"pres":51,"abs":20.5},{"b0":0.65,"b1":0.7,"pres":50.2,"abs":17.5},{"b0":0.7,"b1":0.75,"pres":49.3,"abs":16.5},{"b0":0.75,"b1":0.8,"pres":51.8,"abs":13.5},{"b0":0.8,"b1":0.85,"pres":51.8,"abs":11.5},{"b0":0.85,"b1":0.9,"pres":53,"abs":9.5},{"b0":0.9,"b1":0.95,"pres":55.5,"abs":10.3},{"b0":0.95,"b1":1,"pres":69,"abs":10.7}
  ]},
  "layer": [
    {"mark": {"type": "bar", "fill": "white", "stroke": "black", "strokeWidth": 1},
     "encoding": {
       "x": {"field": "b0", "type": "quantitative", "scale": {"domain": [-0.04, 1.04], "nice": false, "zero": false}, "axis": {"title": "Proportion arable", "values": [0, 0.2, 0.4, 0.6, 0.8, 1], "format": ".1f", "labelPadding": 18, "titleY": 78, "titleBaseline": "alphabetic"}},
       "x2": {"field": "b1"},
       "y": {"field": "abs", "type": "quantitative", "scale": {"domain": [-44.4, 344.4], "reverse": true, "nice": false, "zero": false}, "axis": null},
       "y2": {"datum": 0}}},
    {"mark": {"type": "bar", "fill": "#bebebe", "stroke": "black", "strokeWidth": 1},
     "encoding": {
       "x": {"field": "b0", "type": "quantitative", "scale": {"domain": [-0.04, 1.04], "nice": false, "zero": false}, "axis": {"title": "Proportion arable", "values": [0, 0.2, 0.4, 0.6, 0.8, 1], "format": ".1f", "labelPadding": 18, "titleY": 78, "titleBaseline": "alphabetic"}},
       "x2": {"field": "b1"},
       "y": {"field": "pres", "type": "quantitative", "scale": {"domain": [-44.4, 344.4], "nice": false, "zero": false}, "axis": null},
       "y2": {"datum": 0}}},
    {"data": {"values": [{"lo":0,"q1":0.005,"med":0.11,"q3":0.284,"hi":0.69}]},
     "mark": {"type": "rule", "color": "black", "strokeWidth": 1, "strokeDash": [7, 6]},
     "encoding": {"x": {"field": "lo", "type": "quantitative", "scale": {"domain": [-0.04, 1.04], "nice": false, "zero": false}, "axis": {"title": "Proportion arable", "values": [0, 0.2, 0.4, 0.6, 0.8, 1], "format": ".1f", "labelPadding": 18, "titleY": 78, "titleBaseline": "alphabetic"}}, "x2": {"field": "hi"},
       "y": {"datum": 1.05, "type": "quantitative", "scale": {"domain": [-0.148, 1.148], "nice": false, "zero": false}, "axis": null}}},
    {"data": {"values": [{"lo":0,"q1":0.005,"med":0.11,"q3":0.284,"hi":0.69}]},
     "transform": [{"fold": ["lo", "hi"], "as": ["k", "v"]}],
     "mark": {"type": "rule", "color": "black", "strokeWidth": 1},
     "encoding": {"x": {"field": "v", "type": "quantitative", "scale": {"domain": [-0.04, 1.04], "nice": false, "zero": false}, "axis": {"title": "Proportion arable", "values": [0, 0.2, 0.4, 0.6, 0.8, 1], "format": ".1f", "labelPadding": 18, "titleY": 78, "titleBaseline": "alphabetic"}},
       "y": {"datum": 1.036, "type": "quantitative", "scale": {"domain": [-0.148, 1.148], "nice": false, "zero": false}, "axis": null}, "y2": {"datum": 1.064}}},
    {"data": {"values": [{"lo":0,"q1":0.005,"med":0.11,"q3":0.284,"hi":0.69}]},
     "mark": {"type": "bar", "fill": "white", "stroke": "black", "strokeWidth": 1},
     "encoding": {"x": {"field": "q1", "type": "quantitative", "scale": {"domain": [-0.04, 1.04], "nice": false, "zero": false}, "axis": {"title": "Proportion arable", "values": [0, 0.2, 0.4, 0.6, 0.8, 1], "format": ".1f", "labelPadding": 18, "titleY": 78, "titleBaseline": "alphabetic"}}, "x2": {"field": "q3"},
       "y": {"datum": 1.025, "type": "quantitative", "scale": {"domain": [-0.148, 1.148], "nice": false, "zero": false}, "axis": null}, "y2": {"datum": 1.075}}},
    {"data": {"values": [{"lo":0,"q1":0.005,"med":0.11,"q3":0.284,"hi":0.69}]},
     "mark": {"type": "rule", "color": "black", "strokeWidth": 3},
     "encoding": {"x": {"field": "med", "type": "quantitative", "scale": {"domain": [-0.04, 1.04], "nice": false, "zero": false}, "axis": {"title": "Proportion arable", "values": [0, 0.2, 0.4, 0.6, 0.8, 1], "format": ".1f", "labelPadding": 18, "titleY": 78, "titleBaseline": "alphabetic"}},
       "y": {"datum": 1.025, "type": "quantitative", "scale": {"domain": [-0.148, 1.148], "nice": false, "zero": false}, "axis": null}, "y2": {"datum": 1.075}}},
    {"data": {"values": [{"lo":0,"q1":0.095,"med":0.4,"q3":0.727,"hi":1}]},
     "mark": {"type": "rule", "color": "black", "strokeWidth": 1, "strokeDash": [7, 6]},
     "encoding": {"x": {"field": "lo", "type": "quantitative", "scale": {"domain": [-0.04, 1.04], "nice": false, "zero": false}, "axis": {"title": "Proportion arable", "values": [0, 0.2, 0.4, 0.6, 0.8, 1], "format": ".1f", "labelPadding": 18, "titleY": 78, "titleBaseline": "alphabetic"}}, "x2": {"field": "hi"},
       "y": {"datum": -0.05, "type": "quantitative", "scale": {"domain": [-0.148, 1.148], "nice": false, "zero": false}, "axis": null}}},
    {"data": {"values": [{"lo":0,"q1":0.095,"med":0.4,"q3":0.727,"hi":1}]},
     "transform": [{"fold": ["lo", "hi"], "as": ["k", "v"]}],
     "mark": {"type": "rule", "color": "black", "strokeWidth": 1},
     "encoding": {"x": {"field": "v", "type": "quantitative", "scale": {"domain": [-0.04, 1.04], "nice": false, "zero": false}, "axis": {"title": "Proportion arable", "values": [0, 0.2, 0.4, 0.6, 0.8, 1], "format": ".1f", "labelPadding": 18, "titleY": 78, "titleBaseline": "alphabetic"}},
       "y": {"datum": -0.064, "type": "quantitative", "scale": {"domain": [-0.148, 1.148], "nice": false, "zero": false}, "axis": null}, "y2": {"datum": -0.036}}},
    {"data": {"values": [{"lo":0,"q1":0.095,"med":0.4,"q3":0.727,"hi":1}]},
     "mark": {"type": "bar", "fill": "#bebebe", "stroke": "black", "strokeWidth": 1},
     "encoding": {"x": {"field": "q1", "type": "quantitative", "scale": {"domain": [-0.04, 1.04], "nice": false, "zero": false}, "axis": {"title": "Proportion arable", "values": [0, 0.2, 0.4, 0.6, 0.8, 1], "format": ".1f", "labelPadding": 18, "titleY": 78, "titleBaseline": "alphabetic"}}, "x2": {"field": "q3"},
       "y": {"datum": -0.075, "type": "quantitative", "scale": {"domain": [-0.148, 1.148], "nice": false, "zero": false}, "axis": null}, "y2": {"datum": -0.025}}},
    {"data": {"values": [{"lo":0,"q1":0.095,"med":0.4,"q3":0.727,"hi":1}]},
     "mark": {"type": "rule", "color": "black", "strokeWidth": 3},
     "encoding": {"x": {"field": "med", "type": "quantitative", "scale": {"domain": [-0.04, 1.04], "nice": false, "zero": false}, "axis": {"title": "Proportion arable", "values": [0, 0.2, 0.4, 0.6, 0.8, 1], "format": ".1f", "labelPadding": 18, "titleY": 78, "titleBaseline": "alphabetic"}},
       "y": {"datum": -0.075, "type": "quantitative", "scale": {"domain": [-0.148, 1.148], "nice": false, "zero": false}, "axis": null}, "y2": {"datum": -0.025}}},
    {"data": {"values": [0.708,0.712,0.716,0.72,0.724,0.728,0.732,0.736,0.74,0.744,0.748,0.752,0.756,0.76,0.764,0.768,0.772,0.776,0.78,0.784,0.788,0.792,0.796,0.8,0.804,0.808,0.812,0.816,0.82,0.824,0.828,0.832,0.836,0.84,0.844,0.848,0.852,0.856,0.86,0.864,0.868,0.872,0.876,0.88,0.884,0.888,0.892,0.896,0.9,0.904,0.908,0.912,0.916,0.92,0.924,0.928,0.932,0.936,0.94,0.944,0.948,0.952,0.956,0.96,0.964,0.968,0.972,0.976,0.98,0.984,0.988,0.992,0.996]},
     "mark": {"type": "point", "shape": "circle", "filled": true, "stroke": "black", "strokeWidth": 1.3, "size": 48, "opacity": 1},
     "encoding": {
       "x": {"field": "data", "type": "quantitative", "scale": {"domain": [-0.04, 1.04], "nice": false, "zero": false}, "axis": {"title": "Proportion arable", "values": [0, 0.2, 0.4, 0.6, 0.8, 1], "format": ".1f", "labelPadding": 18, "titleY": 78, "titleBaseline": "alphabetic"}},
       "y": {"datum": 1.05, "type": "quantitative", "scale": {"domain": [-0.148, 1.148], "nice": false, "zero": false}, "axis": {"orient": "right", "title": "SQRT(Frequency)", "values": [0, 0.2, 0.4, 0.6, 0.8, 1], "labelExpr": "datum.value >= 0.5 ? '' + round((1 - datum.value) * 300) : '' + round(datum.value * 300)", "labelAlign": "left", "labelFontSize": 16, "labelPadding": 10, "titleX": 120, "titleY": 153, "titleAngle": 270, "titleBaseline": "alphabetic", "titleAlign": "center"}},
       "fill": {"condition": {"test": "datum.data <= 0.99", "value": "black"}, "value": "transparent"}}},
    {"data": {"values": [{"x":0,"p":0.4305},{"x":0.1,"p":0.3813},{"x":0.2,"p":0.3345},{"x":0.3,"p":0.2907},{"x":0.4,"p":0.2504},{"x":0.5,"p":0.2142},{"x":0.6,"p":0.1818},{"x":0.7,"p":0.1534},{"x":0.8,"p":0.1287}]},
     "mark": {"type": "line", "color": "black", "strokeWidth": 2, "interpolate": "monotone"},
     "encoding": {
       "x": {"field": "x", "type": "quantitative", "scale": {"domain": [-0.04, 1.04], "nice": false, "zero": false}, "axis": {"title": "Proportion arable", "values": [0, 0.2, 0.4, 0.6, 0.8, 1], "format": ".1f", "labelPadding": 18, "titleY": 78, "titleBaseline": "alphabetic"}},
       "y": {"field": "p", "type": "quantitative", "scale": {"domain": [-0.148, 1.148], "nice": false, "zero": false}, "axis": {"orient": "left", "title": null, "values": [0, 0.2, 0.4, 0.6, 0.8, 1], "labels": false}}}}
  ]
}
]
}
